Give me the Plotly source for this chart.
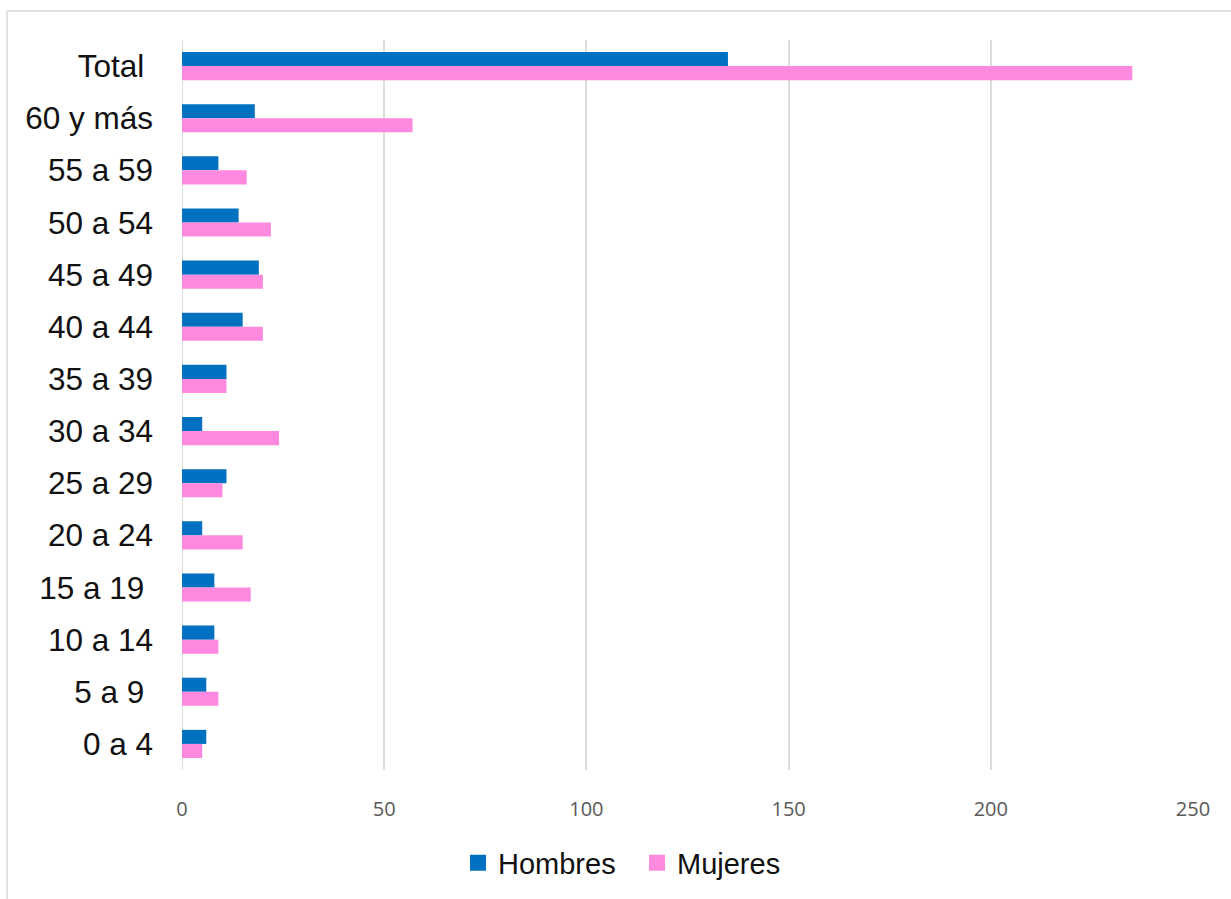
import plotly.graph_objects as go

# Age groups, top to bottom
grupos = ["Total", "60 y más", "55 a 59", "50 a 54", "45 a 49", "40 a 44",
          "35 a 39", "30 a 34", "25 a 29", "20 a 24", "15 a 19", "10 a 14",
          "5 a 9", "0 a 4"]
# Tick text (some labels carry a trailing space)
etiquetas = ["Total\u00a0", "60 y más", "55 a 59", "50 a 54", "45 a 49", "40 a 44",
             "35 a 39", "30 a 34", "25 a 29", "20 a 24", "15 a 19\u00a0", "10 a 14",
             "5 a 9\u00a0", "0 a 4"]
hombres = [135, 18, 9, 14, 19, 15, 11, 5, 11, 5, 8, 8, 6, 6]
mujeres = [235, 57, 16, 22, 20, 20, 11, 24, 10, 15, 17, 9, 9, 5]
x_ticks = [0, 50, 100, 150, 200, 250]
series = ["Hombres", "Mujeres"]

AZUL = "#0070C0"
ROSA = "#FF89DF"
colores = [AZUL, ROSA]

fig = go.Figure()
for nombre, valores, color in zip(series, [hombres, mujeres], colores):
    fig.add_trace(go.Bar(y=grupos, x=valores, orientation="h", name=nombre,
                         marker=dict(color=color, line=dict(width=0)),
                         showlegend=False, legendgroup=nombre))

# Legend entries with larger square swatches
for nombre, color in zip(series, colores):
    fig.add_trace(go.Scatter(x=[None], y=[None], mode="markers", name=nombre,
                             legendgroup=nombre,
                             marker=dict(symbol="square", size=16, color=color)))

W, H = 1231, 899
L, R, T, B = 182, 38, 40, 128
pw, ph = W - L - R, H - T - B

def px_x(p):
    return (p - L) / pw

def px_y(p):
    return (H - B - p) / ph

fig.update_layout(
    width=W, height=H,
    margin=dict(l=L, r=R, t=T, b=B),
    paper_bgcolor="white", plot_bgcolor="white",
    barmode="group", bargap=0.46, bargroupgap=0,
    font=dict(family="Liberation Sans, Arial, sans-serif", color="#111111"),
    showlegend=True,
    legend=dict(orientation="h", x=px_x(458), xanchor="left",
                y=px_y(863), yanchor="middle",
                font=dict(size=29, color="#111111"),
                traceorder="normal", itemwidth=30,
                entrywidth=134, entrywidthmode="pixels"),
    xaxis=dict(range=[0, 250], tickvals=x_ticks, showgrid=True,
               gridcolor="#DCDCDC", gridwidth=2, zeroline=False,
               showline=False, ticks="", ticklabelstandoff=25,
               tickfont=dict(family="Open Sans, sans-serif", size=20, color="#595959")),
    yaxis=dict(categoryorder="array", categoryarray=grupos,
               tickvals=grupos, ticktext=etiquetas,
               autorange="reversed", showgrid=False, zeroline=False,
               showline=False, ticks="", ticklabelstandoff=28,
               tickfont=dict(size=31.5, color="#111111")),
    shapes=[
        # frame around the chart area
        dict(type="rect", xref="paper", yref="paper",
             x0=px_x(7), x1=px_x(1240), y0=px_y(910), y1=px_y(11),
             line=dict(color="#D9D9D9", width=1.5), fillcolor="rgba(0,0,0,0)",
             layer="below"),
        # zero axis line
        dict(type="line", xref="x", yref="paper", x0=0, x1=0, y0=0, y1=1,
             line=dict(color="#DCDCDC", width=2), layer="below"),
    ],
)

fig.write_html("out.html")
